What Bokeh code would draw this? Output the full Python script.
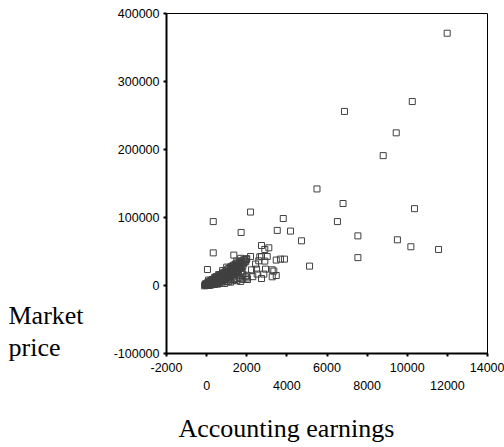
from bokeh.plotting import figure
from bokeh.models import Range1d, FixedTicker, LinearAxis, Label
from bokeh.embed import file_html
from bokeh.resources import INLINE

# ---- data ----
earnings_outliers = [11990, 6870, 10250, 9450, 8800, 5500, 6800, 10360, 330, 2190,
                     3820, 6520, 1720, 3520, 4180, 4730, 7540, 9510, 10180, 11560,
                     7540, 5130, 330, 1355, 2190, 2735, 2900, 3100, 2735, 3020,
                     2900, 3470, 3680, 3880, 3270, 3350, 3270, 3470, 2735, 2040,
                     40, 1520, 2440, 2490, 2935, 2850, 2520, 2240, 2600, 2650,
                     2000, 2300]
price_outliers = [371000, 256000, 270500, 224500, 191000, 142000, 120600, 113000, 94000, 108000,
                  98500, 94000, 78000, 81000, 80000, 65700, 73000, 67200, 57000, 53000,
                  41000, 28500, 48000, 44700, 42600, 58800, 53000, 55400, 42600, 42600,
                  35900, 37400, 38800, 38800, 23100, 21200, 12800, 14700, 10300, 8800,
                  23500, 10300, 31500, 24100, 24100, 16800, 16800, 23100, 36300, 42200,
                  15000, 13000]

earnings_cluster = [-50, 0, 20, 50, 80, 100, 120, 150, 180, 200, 220, 250, 280, 300, 320, 350,
                    380, 400, 420, 450, 480, 500, 520, 550, 580, 600, 620, 650, 680, 700,
                    720, 750, 780, 800, 820, 850, 880, 900, 920, 950, 980, 1000, 1020, 1050,
                    1080, 1100, 1130, 1160, 1180, 1200, 1230, 1260, 1290, 1320, 1350, 1380,
                    1400, 1430, 1460, 1500, 1530, 1560, 1600, 1630, 1660, 1700, 1730, 1760,
                    1800, 1830, 1860, 1900, 1950, 2000, 1400, 1200, 1000, 800, 600, 400,
                    1600, 1800, 1000, 800, 600, 400, 200, 100, 1500, 1700,
                    -100, -30, 10, 30, 60, 90, 130, 160, 40, 70, 0, -80,
                    250, 350, 450, 550, 650, 750, 850, 950, 300, 500, 700, 900,
                    1100, 1300, 1250, 1450, 1650, 1550, 1750, 1150,
                    -60, 60, 140, 210, 270, 330, 390, 460, 530, 610, 690, 760,
                    840, 910, 990, 1070, 1140, 1210, 1290, 1370, 1440, 1520, 1590, 1680,
                    110, 190, 260, 340, 430, 510, 590, 670, 740, 830, 960, 1040,
                    1120, 1240, 1330, 1420, 1540, 1620, 1720, 1850, 1920, 1980,
                    230, 310, 370, 470, 560, 640, 710, 790, 870, 1010, 1190, 1310,
                    1200, 1500, 1800, 2000, 1700, 900, 1350, 1650, 1950, 1100]
price_cluster = [500, 1000, 0, 2000, 500, 3000, 1500, 4000, 2500, 1000, 5000, 3500, 6000, 2000,
                 7000, 4500, 8500, 3000, 6500, 9500, 5000, 11000, 7500, 4000, 12500, 9000,
                 6000, 14000, 10500, 7000, 16000, 12000, 8500, 17500, 13500, 10000, 19000,
                 15000, 11000, 21000, 17000, 13000, 23000, 19000, 14500, 25000, 21000, 16000,
                 27000, 23000, 18000, 28500, 24500, 20000, 30000, 26000, 21500, 31500, 27500,
                 23000, 33000, 29000, 24500, 34500, 30500, 26000, 36000, 32000, 28000, 37500,
                 33500, 38500, 35000, 39500, 9000, 8000, 6000, 5000, 3000, 1500,
                 12000, 17000, 27000, 22000, 16000, 12000, 7000, 8000, 36000, 40000,
                 -500, 200, 300, 600, 1200, 800, 300, 1800, 3500, 4500, 2500, 1500,
                 1500, 2500, 3500, 2000, 5000, 6500, 8000, 9000, 5500, 7000, 9500, 11500,
                 12000, 16000, 20000, 22000, 25000, 18000, 21000, 9500,
                 2500, 4000, 1000, 6500, 3000, 8000, 4500, 10000, 6000, 12500, 8000, 14500,
                 10000, 17000, 12000, 19500, 14000, 22000, 16000, 24500, 18500, 27000, 20500, 29500,
                 5500, 2000, 8500, 4000, 11000, 6000, 13500, 8500, 16000, 11000, 14000, 20000,
                 15500, 26000, 19000, 30000, 22500, 33500, 25500, 32000, 36000, 38000,
                 1000, 9000, 3000, 13000, 4500, 15000, 6500, 18500, 9000, 16500, 12500, 28000,
                 5000, 7000, 9000, 11000, 6000, 3000, 8000, 10000, 13000, 5500]

x_ticks = [-2000, 0, 2000, 4000, 6000, 8000, 10000, 12000, 14000]
x_tick_labels = ["-2000", "0", "2000", "4000", "6000", "8000", "10000", "12000", "14000"]
y_ticks = [-100000, 0, 100000, 200000, 300000, 400000]
y_tick_labels = ["-100000", "0", "100000", "200000", "300000", "400000"]

x_title = "Accounting earnings"
y_title_lines = ["Market", "price"]

TICK_FONT = "Liberation Sans"
TICK_SIZE = "12.5px"
TITLE_FONT = "Liberation Serif"
TITLE_SIZE = "26px"

p = figure(width=504, height=447, output_backend="svg", toolbar_location=None,
           x_range=Range1d(-2000, 14000), y_range=Range1d(-100000, 400000),
           min_border_left=166, min_border_right=17, min_border_top=13, min_border_bottom=94)
p.grid.visible = False
p.background_fill_color = "white"
p.border_fill_color = "white"
p.outline_line_color = "black"
p.outline_line_width = 1


def style_axis(ax):
    ax.axis_line_color = "black"
    ax.axis_line_width = 2
    ax.major_tick_line_color = "black"
    ax.major_tick_line_width = 2
    ax.major_tick_out = 3
    ax.major_tick_in = 0
    ax.minor_tick_line_color = None
    ax.minor_tick_out = 0
    ax.minor_tick_in = 0
    ax.major_label_text_font = TICK_FONT
    ax.major_label_text_font_size = TICK_SIZE
    ax.major_label_text_color = "black"
    ax.major_label_standoff = 4


xa = p.xaxis[0]
style_axis(xa)
xa.major_label_standoff = 6
xa.ticker = FixedTicker(ticks=x_ticks)
xa.major_label_overrides = {t: (lab if i % 2 == 0 else "")
                            for i, (t, lab) in enumerate(zip(x_ticks, x_tick_labels))}

row2_ticks = x_ticks[1::2]
row2_labels = x_tick_labels[1::2]
xa2 = LinearAxis(ticker=FixedTicker(ticks=row2_ticks),
                 major_label_overrides={t: lab for t, lab in zip(row2_ticks, row2_labels)})
style_axis(xa2)
xa2.axis_line_color = None
xa2.major_tick_line_color = None
xa2.major_tick_out = 0
xa2.major_label_standoff = 6
p.add_layout(xa2, "below")

ya = p.yaxis[0]
style_axis(ya)
ya.ticker = FixedTicker(ticks=y_ticks)
ya.major_label_overrides = {t: lab for t, lab in zip(y_ticks, y_tick_labels)}

p.scatter(earnings_cluster, price_cluster, marker="square", size=6,
          fill_color=None, line_color="#404040", line_width=1)
p.scatter(earnings_outliers, price_outliers, marker="square", size=6,
          fill_color=None, line_color="#404040", line_width=1)

# x title, in the panel below the two rows of tick labels
p.add_layout(Label(x=12, y=-7, x_units="screen", y_units="screen", text=x_title,
                   text_font=TITLE_FONT, text_font_size=TITLE_SIZE,
                   text_color="black", text_align="left",
                   text_baseline="alphabetic"), "below")

# y title, horizontal, two lines, in the left panel
p.add_layout(Label(x=-27, y=53, x_units="screen", y_units="screen",
                   text="\n".join(y_title_lines),
                   text_font=TITLE_FONT, text_font_size=TITLE_SIZE,
                   text_line_height=1.12,
                   text_color="black", text_align="left",
                   text_baseline="top"), "left")

open("out.html", "w").write(file_html(p, INLINE))
